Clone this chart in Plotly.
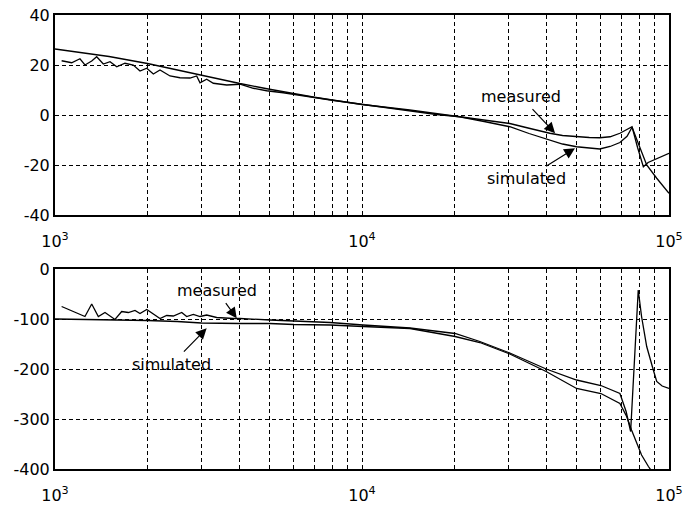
import plotly.graph_objects as go
import math

# ---------------- data ----------------
freq_meas_top = [1051, 1133, 1206, 1252, 1317, 1367, 1437, 1511, 1589, 1690, 1799, 1892, 1990, 2091,
                 2198, 2369, 2553, 2752, 2894, 2967, 3119, 3279, 3625, 4006, 4426, 4891, 5541, 6281,
                 7000, 8000, 9000, 10000, 12000, 15000, 17500, 20800, 25000, 30300, 35000, 40900,
                 45000, 50000, 55000, 59500, 64300, 69200, 73000, 75800, 79000, 82500, 85500, 88900,
                 94700, 100000]
mag_meas_top = [21.7, 20.9, 22.5, 20.0, 21.6, 23.3, 20.4, 21.3, 19.3, 20.7, 20.0, 17.6, 18.7, 16.4,
                18.0, 15.6, 14.9, 14.8, 15.6, 12.9, 14.3, 12.7, 12.0, 12.3, 10.7, 9.7, 8.9, 8.0,
                7.0, 5.9, 5.0, 4.2, 2.8, 1.2, 0.2, -0.7, -2.0, -3.4, -5.3, -7.3,
                -8.2, -8.7, -9.0, -9.1, -8.7, -7.3, -5.9, -4.7, -13.0, -20.7, -19.0, -18.0,
                -16.4, -15.3]

freq_sim_top = [1000, 1250, 1500, 2000, 2500, 3000, 4000, 5000, 6000, 7000, 8000, 10000, 14300,
                20800, 25000, 30300, 35000, 40900, 45000, 50000, 55000, 59500, 64300, 69200, 73000,
                75800, 79400, 84600, 91200, 100000]
mag_sim_top = [26.4, 24.8, 23.4, 20.6, 18.0, 15.9, 12.6, 10.3, 8.5, 7.1, 6.0, 4.2, 2.0,
               -0.7, -2.6, -4.7, -7.4, -10.0, -11.6, -12.7, -13.3, -13.6, -12.6, -11.0, -8.5,
               -4.9, -11.3, -20.0, -25.3, -31.3]

freq_meas_bot = [1051, 1119, 1252, 1317, 1384, 1455, 1568, 1649, 1733, 1822, 1892, 1990, 2091, 2198,
                 2311, 2429, 2587, 2685, 2822, 2967, 3119, 3363, 3809, 4006, 5015, 6124, 7870, 10090,
                 14330, 20100, 24200, 30300, 39800, 50000, 60000, 69200, 72500, 75000, 77500, 79400,
                 81400, 84600, 88900, 91200, 95000, 100000]
phase_meas_bot = [-75, -82, -95, -70, -95, -87, -101, -85, -87, -83, -89, -81, -90, -99,
                  -93, -94, -87, -95, -91, -95, -92, -97, -99, -99, -102, -104, -107, -112,
                  -118, -129, -145, -168, -200, -222, -233, -249, -285, -325, -165, -42,
                  -95, -155, -202, -225, -234, -239]

freq_sim_bot = [1000, 1500, 2000, 2500, 3000, 4000, 5000, 6000, 7870, 10090, 14330, 20100, 24200,
                30300, 39800, 50000, 60000, 69200, 72800, 75500, 78500, 81400, 85700, 88000]
phase_sim_bot = [-100, -101, -103, -105, -108, -109, -109, -111, -112, -115, -119, -135, -147,
                 -170, -205, -239, -249, -269, -295, -322, -349, -372, -395, -405]

x_major_vals = [1000, 10000, 100000]
x_major_text = ["10<sup>3</sup>", "10<sup>4</sup>", "10<sup>5</sup>"]
x_minor_vals = [m * 10 ** e for e in (3, 4) for m in range(2, 10)]
top_tick_vals = [40, 20, 0, -20, -40]
top_tick_text = ["40", "20", "0", "-20", "-40"]
bot_tick_vals = [0, -100, -200, -300, -400]
bot_tick_text = ["0", "-100", "-200", "-300", "-400"]

# annotations: label, label position (freq, value), arrow head (freq, value)
notes_top = [("measured", (32900, 7.3), (42550, -7.3)),
             ("simulated", (34400, -25.3), (49400, -13.3))]
notes_bot = [("measured", (3363, -43), (3908, -98.6)),
             ("simulated", (2400, -190), (3119, -118.6))]

# ---------------- figure ----------------
W, H = 697, 505
FONT = "DejaVu Sans"
fig = go.Figure()
line = dict(color="black", width=1.3)
fig.add_trace(go.Scatter(x=freq_sim_top, y=mag_sim_top, mode="lines", line=line, xaxis="x", yaxis="y"))
fig.add_trace(go.Scatter(x=freq_meas_top, y=mag_meas_top, mode="lines", line=line, xaxis="x", yaxis="y"))
fig.add_trace(go.Scatter(x=freq_sim_bot, y=phase_sim_bot, mode="lines", line=line, xaxis="x2", yaxis="y2"))
fig.add_trace(go.Scatter(x=freq_meas_bot, y=phase_meas_bot, mode="lines", line=line, xaxis="x2", yaxis="y2"))

xdom = [55 / W, 669 / W]
ydom_top = [1 - 215 / H, 1 - 15 / H]
ydom_bot = [1 - 469 / H, 1 - 269 / H]

GRID = dict(showgrid=True, gridcolor="black", griddash="4px,3px", gridwidth=1)
common_x = dict(type="log", range=[3, 5], tickmode="array", tickvals=x_major_vals, ticktext=x_major_text,
                **GRID,
                minor=dict(tickmode="array", tickvals=x_minor_vals, ticks="inside", ticklen=4,
                           tickcolor="black", **GRID),
                showline=True, linecolor="black", linewidth=2, mirror=True,
                ticks="inside", ticklen=4, tickcolor="black", zeroline=False,
                tickfont=dict(family=FONT, size=16, color="black"), ticklabelstandoff=11,
                automargin=False, domain=xdom)
common_y = dict(**GRID,
                showline=True, linecolor="black", linewidth=2, mirror=True,
                ticks="", zeroline=False, automargin=False,
                tickfont=dict(family=FONT, size=16, color="black"))

fig.update_layout(
    width=W, height=H, margin=dict(l=0, r=0, t=0, b=0),
    paper_bgcolor="white", plot_bgcolor="white", showlegend=False,
    xaxis=dict(common_x, anchor="y"),
    yaxis=dict(common_y, range=[-40, 40], tickvals=top_tick_vals, ticktext=top_tick_text,
               domain=ydom_top, anchor="x"),
    xaxis2=dict(common_x, anchor="y2"),
    yaxis2=dict(common_y, range=[-400, 0], tickvals=bot_tick_vals, ticktext=bot_tick_text,
                domain=ydom_bot, anchor="x2"),
)

anns = []
for (txt, (lx, ly), (hx, hy)), xr, yr in [(n, "x", "y") for n in notes_top] + [(n, "x2", "y2") for n in notes_bot]:
    anns.append(dict(x=math.log10(hx), y=hy, ax=math.log10(lx), ay=ly, xref=xr, yref=yr,
                     axref=xr, ayref=yr, text=txt, showarrow=True, arrowhead=2,
                     arrowsize=1.8, arrowwidth=1.2, arrowcolor="black", startstandoff=2,
                     font=dict(family=FONT, size=16, color="black")))
fig.update_layout(annotations=anns)

fig.write_html("out.html")
